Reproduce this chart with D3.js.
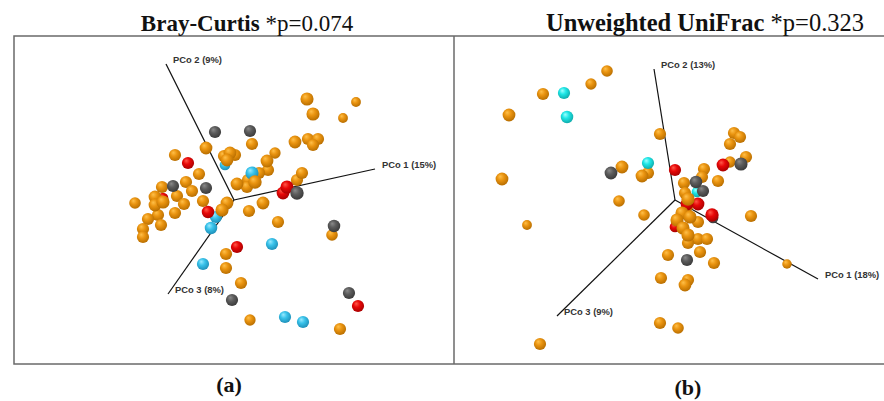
<!DOCTYPE html>
<html>
<head>
<meta charset="utf-8">
<script src="https://cdn.jsdelivr.net/npm/d3@7"></script>
<style>
  body { margin: 0; background: #fff; }
</style>
</head>
<body>
<div id="chart"></div>
<script>
// projected PCoA coordinates: [x, y, depth]
var bcOrange = [
  [0.73, 1.01, 0.3], [1.22, 0.98, -0.8], [0.79, 0.86, 0.3], [1.09, 0.82, -0.8],
  [0.18, 0.56], [0.61, 0.58, 0.2], [0.74, 0.61], [0.84, 0.61], [0.79, 0.55],
  [-0.28, 0.52, 0.2], [-0.59, 0.45], [-0.10, 0.44], [-0.04, 0.47, 0.2], [0.01, 0.45],
  [-0.07, 0.40, 0.2], [0.41, 0.47, -0.3], [0.33, 0.39, 0.2], [0.34, 0.30],
  [-0.35, 0.26], [-0.48, 0.18], [-0.42, 0.09], [-0.72, 0.13], [-0.57, 0.04],
  [-0.79, 0.03, 0.2], [-0.99, -0.03, -0.2], [-0.71, -0.02, 0.3], [-0.79, -0.05, 0.2],
  [-0.50, -0.04], [-0.31, -0.01], [-0.59, -0.13], [-0.76, -0.15], [-0.86, -0.19],
  [-0.73, -0.25], [-0.91, -0.29], [-0.91, -0.37], [0.03, 0.16, 0.2], [0.14, 0.20],
  [0.21, 0.18, 0.4], [0.25, 0.27], [0.13, 0.13], [0.63, 0.20], [0.68, 0.27],
  [0.29, -0.03, 0.2], [0.15, -0.11], [-0.12, -0.10, 0.3], [-0.07, -0.03, 0.2],
  [0.44, -0.22], [0.98, -0.35, -0.2], [-0.08, -0.54], [-0.08, -0.68], [0.07, -0.83],
  [0.16, -1.20, -0.3], [1.06, -1.29]
];
var bcRed = [
  [-0.46, 0.37], [0.53, 0.13, 0.3], [0.49, 0.07, 0.2], [-0.26, -0.12, 0.1],
  [0.03, -0.47], [1.24, -1.06], [-0.71, 0.02, -0.5]
];
var bcGrey = [
  [-0.19, 0.68], [0.16, 0.69], [-0.61, 0.14], [-0.28, 0.12], [0.63, 0.07, 0.4],
  [1.00, -0.26, 0.1], [-0.02, -1.00], [1.15, -0.93]
];
var bcCyan = [
  [0.18, 0.27, 0.3], [-0.09, 0.35, -0.5], [-0.18, -0.17], [-0.23, -0.28, 0.1],
  [0.38, -0.44], [-0.31, -0.64], [0.51, -1.17], [0.69, -1.22]
];
var bcAxes = [
  { label: "PCo 1 (15%)", end: [1.41, 0.31] },
  { label: "PCo 2 (9%)", end: [-0.68, 1.36] },
  { label: "PCo 3 (8%)", end: [-0.66, -0.94] }
];

var ufOrange = [
  [-0.68, 1.29, -0.2], [-0.84, 1.16, -0.3], [-1.32, 1.06], [-1.66, 0.85, 0.2],
  [-1.73, 0.21, 0.2], [-1.48, -0.25, -0.8], [-1.35, -1.44], [-0.15, 0.66],
  [0.59, 0.67], [0.65, 0.63], [0.55, 0.56], [0.71, 0.43], [0.55, 0.38, -0.3],
  [-0.53, 0.33, 0.2], [-0.27, 0.27], [-0.33, 0.24, 0.2], [-0.56, -0.01, -0.2],
  [-0.31, -0.15, -0.2], [0.29, 0.31], [0.27, 0.23], [0.43, 0.19], [0.09, 0.17],
  [0.10, 0.07], [0.13, 0.01, 0.4], [0.12, -0.07], [0.07, -0.13, 0.3], [0.02, -0.20, 0.3],
  [0.15, -0.17, 0.3], [0.23, -0.22], [0.08, -0.28, 0.3], [0.13, -0.35, 0.3],
  [0.23, -0.39], [0.32, -0.39], [0.13, -0.43], [0.25, -0.52], [-0.07, -0.55],
  [0.39, -0.63], [0.76, -0.16], [1.12, -0.64, -0.9], [-0.14, -0.78], [0.13, -0.80],
  [0.10, -0.85, 0.2], [-0.15, -1.23], [0.03, -1.28, -0.2]
];
var ufRed = [
  [0.00, 0.30], [0.48, 0.35, 0.2], [0.23, -0.04, 0.2], [0.12, -0.04, 0.2],
  [0.37, -0.15, 0.4], [0.00, -0.27, -0.5]
];
var ufGrey = [
  [-0.64, 0.27, 0.2], [0.66, 0.36, 0.3], [0.21, 0.18, 0.1], [0.28, 0.09],
  [0.12, -0.60], [0.38, -0.18, -0.5]
];
var ufCyan = [
  [-1.11, 1.07], [-1.08, 0.83, 0.1], [-0.27, 0.37], [0.22, 0.08, -0.5]
];
var ufAxes = [
  { label: "PCo 1 (18%)", end: [1.43, -0.79] },
  { label: "PCo 2 (13%)", end: [-0.21, 1.31] },
  { label: "PCo 3 (9%)", end: [-1.18, -1.16] }
];

var titles = [
  { name: "Bray-Curtis", p: "*p=0.074" },
  { name: "Unweighted UniFrac", p: "*p=0.323" }
];
var panelTags = ["(a)", "(b)"];

var palette = {
  orange: ["#ffc04a", "#ea9410", "#b86e00"],
  red: ["#ff5a4a", "#e80808", "#a80000"],
  grey: ["#8a8a8a", "#5c5c5c", "#3a3a3a"],
  cyanA: ["#9aeaff", "#38c2ea", "#1e8fb8"],
  cyanB: ["#a0ffff", "#1ee6e6", "#10aaaa"]
};

var W = 884, H = 401;
var svg = d3.select("#chart").append("svg").attr("width", W).attr("height", H);
var defs = svg.append("defs");

Object.keys(palette).forEach(function(k) {
  var g = defs.append("radialGradient").attr("id", "sph-" + k)
    .attr("cx", "45%").attr("cy", "40%").attr("r", "60%")
    .attr("fx", "35%").attr("fy", "30%");
  g.append("stop").attr("offset", "0%").attr("stop-color", palette[k][0]);
  g.append("stop").attr("offset", "45%").attr("stop-color", palette[k][1]);
  g.append("stop").attr("offset", "100%").attr("stop-color", palette[k][2]);
});

// frame
svg.append("rect").attr("x", 14).attr("y", 36).attr("width", 900).attr("height", 328)
  .attr("fill", "none").attr("stroke", "#6a6a6a").attr("stroke-width", 1.5);
svg.append("line").attr("x1", 454).attr("x2", 454).attr("y1", 36).attr("y2", 364)
  .attr("stroke", "#6a6a6a").attr("stroke-width", 1.5);

var rScale = d3.scaleLinear().domain([-1, 1]).range([4.6, 7.6]);

function drawPanel(cfg) {
  var x = d3.scaleLinear().domain([-1, 1]).range([cfg.ox - 100, cfg.ox + 100]);
  var y = d3.scaleLinear().domain([-1, 1]).range([cfg.oy + 100, cfg.oy - 100]);
  var g = svg.append("g");

  // title
  var t = g.append("text")
    .attr("x", cfg.tx).attr("y", 31)
    .attr("text-anchor", "middle")
    .style("font-family", "'Liberation Serif', 'DejaVu Serif', serif")
    .style("font-size", cfg.titleSize)
    .attr("fill", "#111");
  t.append("tspan").style("font-weight", "bold").text(cfg.title.name + " ");
  t.append("tspan").text(cfg.title.p);

  g.append("text")
    .attr("x", cfg.tagX).attr("y", cfg.tagY)
    .attr("text-anchor", "middle")
    .style("font-family", "'Liberation Serif', 'DejaVu Serif', serif")
    .style("font-size", "22px").style("font-weight", "bold")
    .attr("fill", "#111")
    .text(cfg.tag);

  // axes
  g.selectAll(".ax").data(cfg.axes).enter().append("line")
    .attr("x1", x(0)).attr("y1", y(0))
    .attr("x2", function(d) { return x(d.end[0]); })
    .attr("y2", function(d) { return y(d.end[1]); })
    .attr("stroke", "#111").attr("stroke-width", 1.2);

  g.selectAll(".axl").data(cfg.axes).enter().append("text")
    .attr("x", function(d) { return x(d.end[0]) + 7; })
    .attr("y", function(d) { return y(d.end[1]) - 3; })
    .attr("dominant-baseline", "middle")
    .style("font-family", "'Liberation Sans', Arial, sans-serif")
    .style("font-size", "9.4px").style("font-weight", "bold")
    .attr("fill", "#333")
    .text(function(d) { return d.label; });

  // points
  var pts = [];
  cfg.groups.forEach(function(gr) {
    gr.data.forEach(function(d) {
      pts.push({ x: d[0], y: d[1], z: d.length > 2 ? d[2] : 0, fill: gr.fill });
    });
  });
  pts.sort(function(a, b) { return a.z - b.z; });

  g.selectAll(".pt").data(pts).enter().append("circle")
    .attr("cx", function(d) { return x(d.x); })
    .attr("cy", function(d) { return y(d.y); })
    .attr("r", function(d) { return rScale(d.z); })
    .attr("fill", function(d) { return "url(#sph-" + d.fill + ")"; });
}

drawPanel({
  ox: 234, oy: 200, tx: 247, tagX: 229, tagY: 392, titleSize: "23px",
  title: titles[0], tag: panelTags[0], axes: bcAxes,
  groups: [
    { data: bcOrange, fill: "orange" }, { data: bcRed, fill: "red" },
    { data: bcGrey, fill: "grey" }, { data: bcCyan, fill: "cyanA" }
  ]
});

drawPanel({
  ox: 675, oy: 200, tx: 705, tagX: 688, tagY: 395, titleSize: "24.5px",
  title: titles[1], tag: panelTags[1], axes: ufAxes,
  groups: [
    { data: ufOrange, fill: "orange" }, { data: ufRed, fill: "red" },
    { data: ufGrey, fill: "grey" }, { data: ufCyan, fill: "cyanB" }
  ]
});
</script>
</body>
</html>
